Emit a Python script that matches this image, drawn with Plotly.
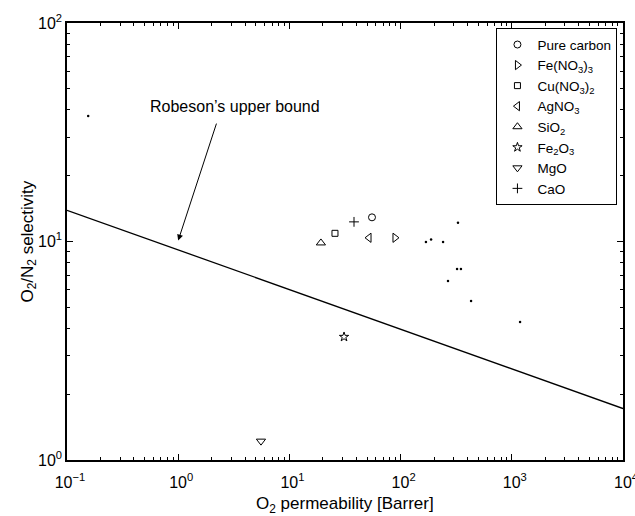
import math
import plotly.graph_objects as go

# ---- data ----
series_names = ["Pure carbon", "Fe(NO<sub>3</sub>)<sub>3</sub>", "Cu(NO<sub>3</sub>)<sub>2</sub>",
                "AgNO<sub>3</sub>", "SiO<sub>2</sub>", "Fe<sub>2</sub>O<sub>3</sub>", "MgO", "CaO"]
series_perm = [55.3, 89.0, 25.7, 52.0, 19.2, 31.0, 5.55, 38.1]
series_sel = [12.9, 10.4, 10.9, 10.4, 9.85, 3.66, 1.22, 12.3]
series_symbols = ["circle-open", "triangle-right-open", "square-open", "triangle-left-open",
                  "triangle-up-open", "star-open", "triangle-down-open", "cross-thin-open"]

lit_perm = [0.155, 169, 188, 241, 328, 322, 349, 267, 430, 1186]
lit_sel = [37.5, 9.95, 10.2, 9.95, 12.2, 7.48, 7.48, 6.6, 5.34, 4.28]

bound_perm = [0.1, 1e4]
bound_sel = [13.9, 1.72]

arrow_tip = (1.0, 10.1)
arrow_tail = (2.23, 35.2)
label_pos = (3.24, 41.7)
label_text = "Robeson\u2019s upper bound"

x_title = "O<sub>2</sub> permeability [Barrer]"
y_title = "O<sub>2</sub>/N<sub>2</sub> selectivity"

x_tickvals = [0.1, 1, 10, 100, 1000, 10000]
x_ticktext = ["10<sup>\u22121</sup>", "10<sup>0</sup>", "10<sup>1</sup>", "10<sup>2</sup>",
              "10<sup>3</sup>", "10<sup>4</sup>"]
y_tickvals = [1, 10, 100]
y_ticktext = ["10<sup>0</sup>", "10<sup>1</sup>", "10<sup>2</sup>"]

x_minor = [m * 10 ** e for e in range(-1, 4) for m in range(2, 10)]
y_minor = [m * 10 ** e for e in range(0, 2) for m in range(2, 10)]

FONT = "Liberation Sans, Arial, Helvetica, sans-serif"

fig = go.Figure()

fig.add_trace(go.Scatter(x=bound_perm, y=bound_sel, mode="lines",
                         line=dict(color="black", width=1.3), showlegend=False,
                         hoverinfo="skip"))
fig.add_trace(go.Scatter(x=lit_perm, y=lit_sel, mode="markers",
                         marker=dict(color="black", size=2.5, symbol="circle"),
                         showlegend=False))

marker_sizes = [7, 8, 6, 8, 8, 7, 8, 7]
for name, px, sy, sym, ms in zip(series_names, series_perm, series_sel, series_symbols, marker_sizes):
    fig.add_trace(go.Scatter(x=[px], y=[sy], mode="markers", name=name,
                             marker=dict(symbol=sym, size=ms, color="black",
                                         line=dict(color="black", width=1))))

axis_common = dict(type="log", showline=True, linecolor="black", linewidth=1.5,
                   mirror="ticks", ticks="inside", ticklen=6, tickcolor="black",
                   showgrid=False, zeroline=False, automargin=False,
                   ticklabeloverflow="allow",
                   tickfont=dict(family=FONT, size=16, color="black"))

fig.update_xaxes(**axis_common, range=[-1, 4], tickmode="array",
                 tickvals=x_tickvals, ticktext=x_ticktext, ticklabelshift=3,
                 ticklabelstandoff=7,
                 minor=dict(tickmode="array", tickvals=x_minor, ticks="inside", ticklen=3,
                            tickcolor="black", showgrid=False))
fig.update_yaxes(**axis_common, range=[0, 2], tickmode="array",
                 tickvals=y_tickvals, ticktext=y_ticktext,
                 minor=dict(tickmode="array", tickvals=y_minor, ticks="inside", ticklen=3,
                            tickcolor="black", showgrid=False))

# axis titles as paper-positioned text
fig.add_annotation(x=0.5, y=-0.103, xref="paper", yref="paper", text=x_title,
                   showarrow=False, xanchor="center", yanchor="middle",
                   font=dict(family=FONT, size=17, color="black"))
fig.add_annotation(x=-0.070, y=0.5, xref="paper", yref="paper", text=y_title,
                   showarrow=False, textangle=-90, xanchor="center", yanchor="middle",
                   font=dict(family=FONT, size=17, color="black"))

fig.add_annotation(x=math.log10(arrow_tip[0]), y=math.log10(arrow_tip[1]),
                   ax=math.log10(arrow_tail[0]), ay=math.log10(arrow_tail[1]),
                   xref="x", yref="y", axref="x", ayref="y", text="",
                   showarrow=True, arrowhead=2, arrowsize=1.2, arrowwidth=1, arrowcolor="black")
fig.add_annotation(x=math.log10(label_pos[0]), y=math.log10(label_pos[1]), xref="x", yref="y",
                   text=label_text, showarrow=False,
                   font=dict(family=FONT, size=16, color="black"))

fig.update_layout(
    width=635, height=516,
    margin=dict(l=67, r=12, t=23, b=56),
    paper_bgcolor="white", plot_bgcolor="white",
    font=dict(family=FONT, size=14, color="black"),
    legend=dict(x=0.99, y=0.988, xanchor="right", yanchor="top",
                bordercolor="black", borderwidth=1, bgcolor="white",
                font=dict(family=FONT, size=13.5, color="black"),
                tracegroupgap=0, itemwidth=30),
)

fig.write_html("out.html", config={"displayModeBar": False},
               post_script="document.body.style.margin='0';")
